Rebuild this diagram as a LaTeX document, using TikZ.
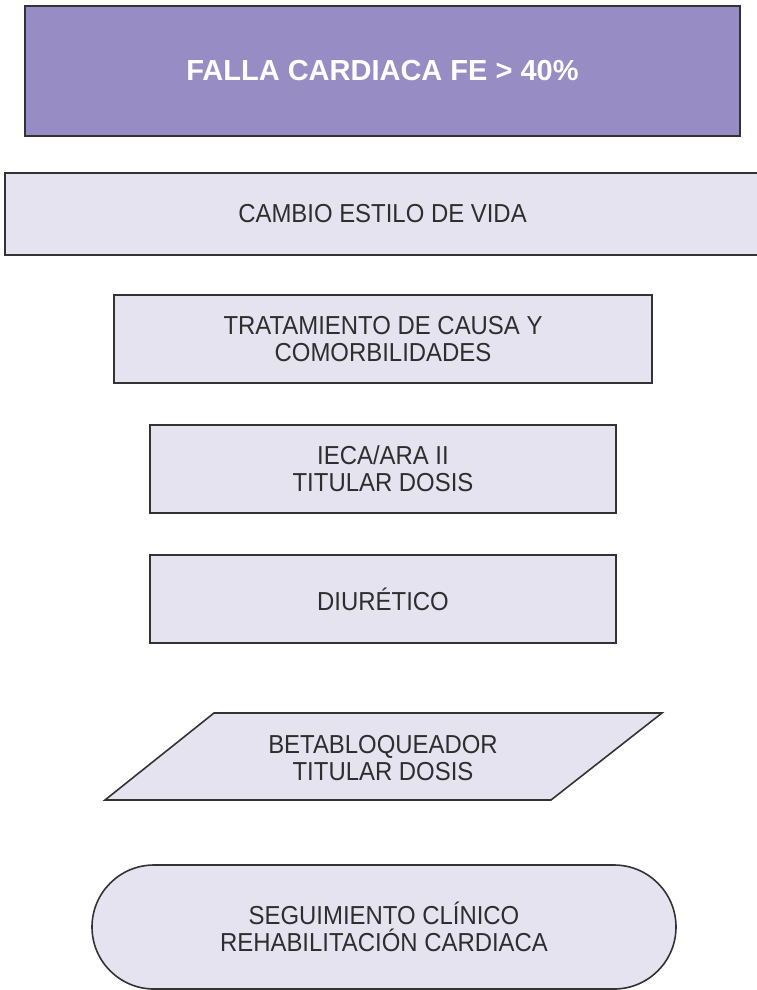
\documentclass[tikz,border=0pt]{standalone}
\usepackage{fontspec}
\setmainfont{Liberation Sans}
\newfontfamily\angosta[FakeStretch=0.92]{Liberation Sans}
\definecolor{lila}{HTML}{978CC3}
\definecolor{lilaclaro}{HTML}{E6E3F0}
\definecolor{borde}{HTML}{333333}
\definecolor{texto}{HTML}{2E2E2E}

\begin{document}
\begin{tikzpicture}[x=1pt, y=-1pt, line width=1.6pt,
  caja/.style={draw=borde, fill=lilaclaro, text=texto, align=center,
    font=\angosta\fontsize{26}{27}\selectfont, inner sep=0pt}]
  \useasboundingbox (0,0) rectangle (756,990);
  % encabezado
  \node[caja, fill=lila, text=white, font=\fontsize{29}{32}\selectfont\bfseries,
    minimum width=715pt, minimum height=130pt] (falla) at (382.5,71)
    {FALLA CARDIACA FE > 40\%};
  % pasos
  \node[caja, minimum width=755pt, minimum height=82pt] (estilo) at (382.5,214)
    {CAMBIO ESTILO DE VIDA};
  \node[caja, minimum width=538pt, minimum height=88pt] (causa) at (383,339)
    {TRATAMIENTO DE CAUSA Y\\COMORBILIDADES};
  \node[caja, minimum width=466pt, minimum height=88pt] (ieca) at (383,469)
    {IECA/ARA II\\TITULAR DOSIS};
  \node[caja, minimum width=466pt, minimum height=88pt] (diuretico) at (383,599)
    {DIURÉTICO};
  % paralelogramo
  \coordinate (p1) at (214,713);
  \coordinate (p2) at (662,713);
  \coordinate (p3) at (551,800);
  \coordinate (p4) at (105,800);
  \draw[draw=borde, fill=lilaclaro] (p1) -- (p2) -- (p3) -- (p4) -- cycle;
  \node[text=texto, align=center, font=\angosta\fontsize{26}{27}\selectfont] (beta) at (383,758)
    {BETABLOQUEADOR\\TITULAR DOSIS};
  % terminal
  \node[caja, rounded corners=62pt, minimum width=584pt, minimum height=124pt] (seguimiento) at (384,927)
    {SEGUIMIENTO CLÍNICO\\REHABILITACIÓN CARDIACA};
\end{tikzpicture}
\end{document}
